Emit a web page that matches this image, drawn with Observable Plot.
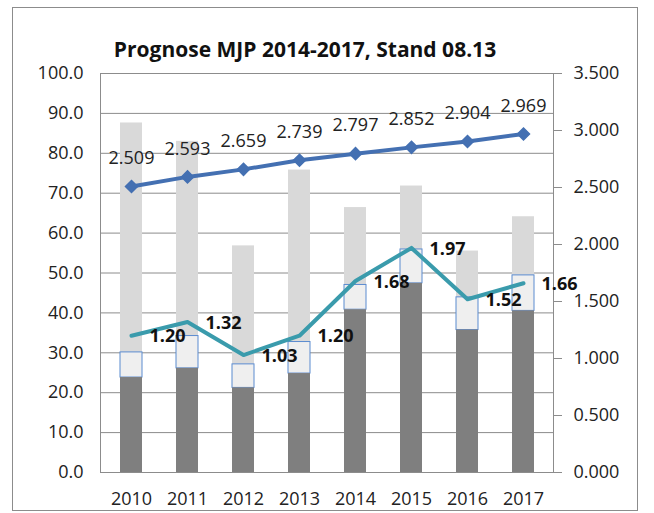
<!DOCTYPE html>
<html><head><meta charset="utf-8">
<script src="https://cdn.jsdelivr.net/npm/d3@7"></script>
<script src="https://cdn.jsdelivr.net/npm/@observablehq/plot@0.6"></script>
<style>
body{margin:0;background:#fff;}
#wrap{position:relative;width:654px;height:513px;}
#border{position:absolute;left:12px;top:7px;width:624px;height:502px;border:1px solid #8c8c8c;pointer-events:none;}
</style></head><body><div id="wrap"><div id="border"></div></div>
<script>
const title = "Prognose MJP 2014-2017, Stand 08.13";
const years = ["2010", "2011", "2012", "2013", "2014", "2015", "2016", "2017"];
const darkTop = [23.8, 26.1, 21.2, 24.8, 40.8, 47.4, 35.7, 40.5];
const whiteTop = [30.1, 34.2, 27.1, 32.7, 47.0, 55.9, 43.9, 49.4];
const greyTop = [87.6, 83.0, 56.8, 75.8, 66.4, 71.8, 55.5, 64.1];
const blueValues = [2.509, 2.593, 2.659, 2.739, 2.797, 2.852, 2.904, 2.969];
const tealValues = [1.20, 1.32, 1.03, 1.20, 1.68, 1.97, 1.52, 1.66];
const leftTicks = [0, 10, 20, 30, 40, 50, 60, 70, 80, 90, 100];
const rightTicks = [0, 0.5, 1.0, 1.5, 2.0, 2.5, 3.0, 3.5];
const rightMax = 3.5, leftMax = 100;
const k = leftMax / rightMax;

const rows = years.map((y, i) => ({
  year: y, dark: darkTop[i], white: whiteTop[i], grey: greyTop[i],
  blue: blueValues[i], teal: tealValues[i]
}));

const font = "'Open Sans', sans-serif";
const chart = Plot.plot({
  width: 654, height: 513,
  marginLeft: 100, marginRight: 101, marginTop: 73, marginBottom: 41,
  style: {fontFamily: font, fontSize: "18px", color: "#222", background: "white"},
  x: {type: "band", domain: years, paddingInner: 0.61, paddingOuter: 0.305, label: null},
  y: {domain: [0, leftMax], label: null},
  marks: [
    Plot.gridY(leftTicks, {stroke: "#8c8c8c", strokeOpacity: 1}),
    Plot.barY(rows, {x: "year", y1: "white", y2: "grey", fill: "#d9d9d9", inset: 0}),
    Plot.barY(rows, {x: "year", y1: "dark", y2: "white", fill: "#efefef", stroke: "#5b8bd0", strokeWidth: 1, inset: 0}),
    Plot.barY(rows, {x: "year", y1: 0, y2: "dark", fill: "#7f7f7f", inset: 0}),
    Plot.frame({stroke: "#8c8c8c"}),
    Plot.axisY(leftTicks, {anchor: "left", tickSize: 0, tickPadding: 17, tickFormat: d => d.toFixed(1), label: null}),
    Plot.axisY(rightTicks.map(v => v * k), {anchor: "right", tickSize: 8, tickPadding: 12, stroke: "#8c8c8c", tickFormat: d => (d / k).toFixed(3), label: null}),
    Plot.axisX({tickSize: 0, tickPadding: 20, label: null}),
    Plot.line(rows, {x: "year", y: d => d.teal * k, stroke: "#3a9bac", strokeWidth: 4}),
    Plot.line(rows, {x: "year", y: d => d.blue * k, stroke: "#4470b2", strokeWidth: 4}),
    Plot.dot(rows, {x: "year", y: d => d.blue * k, symbol: "diamond2", r: 5.4, fill: "#4470b2", stroke: "#4470b2"}),
    Plot.text(rows, {x: "year", y: d => d.blue * k, text: d => d.blue.toFixed(3), dy: -28, fill: "#222", fontSize: 18}),
    Plot.text(rows, {x: "year", y: d => d.teal * k, text: d => d.teal.toFixed(2), dx: 18, dy: 1, textAnchor: "start", fill: "#111", fontSize: 18, fontWeight: "bold"}),
    Plot.text([title], {frameAnchor: "top", dx: -22, dy: -31, fontSize: 21, fontWeight: "bold", fill: "#111"})
  ]
});
document.getElementById("wrap").prepend(chart);
</script>
</body></html>
